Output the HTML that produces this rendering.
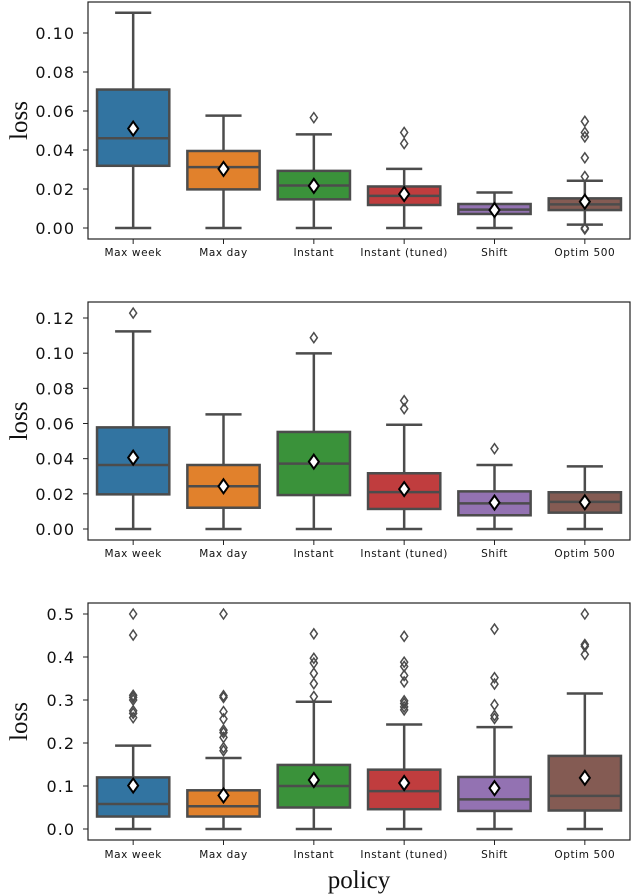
<!DOCTYPE html>
<html><head><meta charset="utf-8"><style>
html,body{margin:0;padding:0;background:#fff;}
svg{display:block;}
</style></head><body>
<svg id="chart" width="632" height="894" xmlns="http://www.w3.org/2000/svg"></svg>
<script>
const categories = ["Max week","Max day","Instant","Instant (tuned)","Shift","Optim 500"];
const colors = ["#3274a1","#e1812c","#3a923a","#c03d3e","#9372b2","#845b53"];
// panel 1
const p1Low   = [0,0,0,0,0,0.0017];
const p1Q1    = [0.0319,0.0198,0.0147,0.0118,0.0072,0.0092];
const p1Med   = [0.046,0.0312,0.0218,0.0165,0.0094,0.0121];
const p1Q3    = [0.071,0.0395,0.0293,0.0213,0.0123,0.0152];
const p1High  = [0.1104,0.0576,0.048,0.0303,0.0182,0.0242];
const p1Mean  = [0.051,0.0303,0.0216,0.0174,0.0092,0.0135];
const p1Out   = [[],[],[0.0566],[0.049,0.0433],[],[0.0547,0.049,0.0467,0.036,0.0264,0.0,-0.0005]];
const p1Ticks = [0,0.02,0.04,0.06,0.08,0.10];
const p1TickLabels = ["0.00","0.02","0.04","0.06","0.08","0.10"];
// panel 2
const p2Low   = [0,0,0,0,0,0];
const p2Q1    = [0.0197,0.0121,0.0193,0.0114,0.0078,0.0093];
const p2Med   = [0.0364,0.0243,0.0372,0.021,0.0146,0.0154];
const p2Q3    = [0.0578,0.0364,0.0552,0.0317,0.0214,0.0209];
const p2High  = [0.1124,0.0652,0.0999,0.0593,0.0364,0.0356];
const p2Mean  = [0.0406,0.0243,0.0383,0.0227,0.015,0.0152];
const p2Out   = [[0.1228],[],[0.1088],[0.073,0.0684],[0.0457],[]];
const p2Ticks = [0,0.02,0.04,0.06,0.08,0.10,0.12];
const p2TickLabels = ["0.00","0.02","0.04","0.06","0.08","0.10","0.12"];
// panel 3
const p3Low   = [0,0,0,0,0,0];
const p3Q1    = [0.029,0.029,0.05,0.046,0.042,0.043];
const p3Med   = [0.058,0.053,0.1,0.088,0.069,0.077];
const p3Q3    = [0.12,0.09,0.149,0.138,0.121,0.17];
const p3High  = [0.194,0.165,0.296,0.243,0.237,0.315];
const p3Mean  = [0.101,0.078,0.114,0.107,0.095,0.119];
const p3Out   = [[0.5,0.451,0.311,0.306,0.30,0.275,0.269,0.259],
                 [0.5,0.31,0.306,0.273,0.256,0.23,0.224,0.213,0.189,0.182],
                 [0.454,0.397,0.386,0.362,0.338,0.308],
                 [0.448,0.388,0.378,0.357,0.342,0.298,0.292,0.284,0.277],
                 [0.465,0.352,0.337,0.289,0.264,0.257],
                 [0.5,0.429,0.425,0.406]];
const p3Ticks = [0,0.1,0.2,0.3,0.4,0.5];
const p3TickLabels = ["0.0","0.1","0.2","0.3","0.4","0.5"];

const NS = "http://www.w3.org/2000/svg";
const svg = document.getElementById("chart");
const LINE = "#4c4c4c";
function mk(tag, attrs, parent){
  const e = document.createElementNS(NS, tag);
  for (const k in attrs) e.setAttribute(k, attrs[k]);
  (parent||svg).appendChild(e);
  return e;
}
const X0 = 88, X1 = 630;
const step = (X1 - X0) / categories.length;
function xScale(i){ return X0 + step * (i + 0.5); }

const panels = [
  {top:2, bot:239, y0:228, vTop:0.10, yTop:33, low:p1Low,q1:p1Q1,med:p1Med,q3:p1Q3,high:p1High,mean:p1Mean,out:p1Out,ticks:p1Ticks,labels:p1TickLabels,xl:252},
  {top:302, bot:540, y0:529, vTop:0.12, yTop:318, low:p2Low,q1:p2Q1,med:p2Med,q3:p2Q3,high:p2High,mean:p2Mean,out:p2Out,ticks:p2Ticks,labels:p2TickLabels,xl:553},
  {top:603, bot:840, y0:829, vTop:0.5, yTop:614, low:p3Low,q1:p3Q1,med:p3Med,q3:p3Q3,high:p3High,mean:p3Mean,out:p3Out,ticks:p3Ticks,labels:p3TickLabels,xl:854}
];

panels.forEach((P, pi) => {
  const g = mk("g", {});
  
  
  const yScale = v => P.y0 + (P.yTop - P.y0) * v / P.vTop;
  const frame = mk("rect", {x:X0, y:P.top, width:X1-X0, height:P.bot-P.top, fill:"none", stroke:"#222", "stroke-width":1.2}, g);
  
  
  P.ticks.forEach((t, k) => {
    const y = yScale(t);
    const tk = mk("line", {x1:X0-5, x2:X0, y1:y, y2:y, stroke:"#222", "stroke-width":1}, g);
    
    
    const tx = mk("text", {x:X0-13, y:y+6, "text-anchor":"end", "font-family":"DejaVu Sans, Liberation Sans, sans-serif", "font-size":16, "letter-spacing":"1", fill:"#111"}, g);
    tx.textContent = P.labels[k];
    
    
  });
  const yl = mk("text", {x:0, y:0, transform:"translate(27," + ((P.top+P.bot)/2) + ") rotate(-90)", "text-anchor":"middle", "font-family":"Liberation Serif, serif", "font-size":25, fill:"#111"}, g);
  yl.textContent = "loss";
  
  
  const bw = step * 0.8;
  categories.forEach((c, i) => {
    const cx = xScale(i);
    const tk = mk("line", {x1:cx, x2:cx, y1:P.bot, y2:P.bot+5, stroke:"#222", "stroke-width":1}, g);
    
    
    const tl = mk("text", {x:cx, y:P.xl+4, "text-anchor":"middle", "font-family":"DejaVu Sans, Liberation Sans, sans-serif", "font-size":10.5, "letter-spacing":"0.6", fill:"#111"}, g);
    tl.textContent = c;
    
    
    const bg = mk("g", {}, g);
    
    
    const yl_ = yScale(P.low[i]), yq1 = yScale(P.q1[i]), ymd = yScale(P.med[i]), yq3 = yScale(P.q3[i]), yh = yScale(P.high[i]);
    mk("line", {x1:cx, x2:cx, y1:yq1, y2:yl_, stroke:LINE, "stroke-width":2.5}, bg);
    mk("line", {x1:cx, x2:cx, y1:yq3, y2:yh, stroke:LINE, "stroke-width":2.5}, bg);
    mk("line", {x1:cx-bw/4, x2:cx+bw/4, y1:yl_, y2:yl_, stroke:LINE, "stroke-width":2.5}, bg);
    mk("line", {x1:cx-bw/4, x2:cx+bw/4, y1:yh, y2:yh, stroke:LINE, "stroke-width":2.5}, bg);
    mk("rect", {x:cx-bw/2, y:yq3, width:bw, height:yq1-yq3, fill:colors[i], stroke:LINE, "stroke-width":2.5}, bg);
    mk("line", {x1:cx-bw/2, x2:cx+bw/2, y1:ymd, y2:ymd, stroke:LINE, "stroke-width":2.5}, bg);
    P.out[i].forEach(v => {
      const y = yScale(v);
      const o = mk("path", {d:`M${cx},${y-5} L${cx+3.5},${y} L${cx},${y+5} L${cx-3.5},${y} Z`, fill:"none", stroke:LINE, "stroke-width":1.5}, bg);
      
      
    });
    const ym = yScale(P.mean[i]);
    const m = mk("path", {d:`M${cx},${ym-7} L${cx+5},${ym} L${cx},${ym+7} L${cx-5},${ym} Z`, fill:"#fff", stroke:"#000", "stroke-width":2}, bg);
    
    
  });
});
const xt = mk("text", {x:(X0+X1)/2, y:888, "text-anchor":"middle", "font-family":"Liberation Serif, serif", "font-size":25, fill:"#111"});
xt.textContent = "policy";


</script>
</body></html>
